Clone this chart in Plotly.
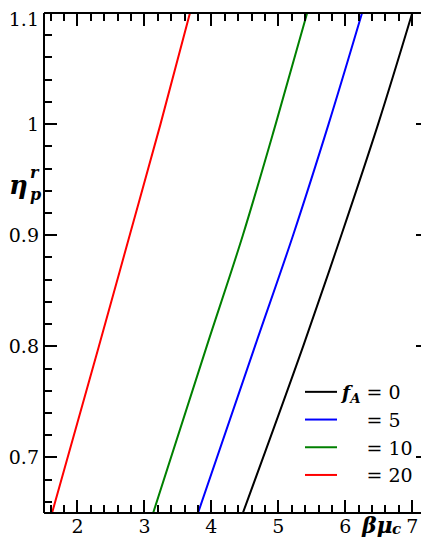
import plotly.graph_objects as go

# eta_p^r levels where the curves were read
eta = [0.65, 0.8, 0.9, 1.0, 1.1]

# beta*mu_c for each f_A curve
bmu_f0 = [4.47, 5.37, 5.94, 6.49, 7.00]
bmu_f5 = [3.80, 4.65, 5.22, 5.75, 6.25]
bmu_f10 = [3.13, 3.93, 4.47, 4.96, 5.43]
bmu_f20 = [1.62, 2.32, 2.78, 3.24, 3.68]

labels = ["0", "5", "10", "20"]
colors = ["black", "blue", "green", "red"]

y_ticks = [0.7, 0.8, 0.9, 1.0]
y_top_tick = [1.1]

FONT = "DejaVu Serif"

# the page body has an 8px margin, so the figure sits at (8, 8)
OFF = 8
W, H = 429 - OFF, 537 - OFF
L, R, T, B = 44 - OFF, 0, 13 - OFF, 24

fA = "<b><i>f<sub>A</sub></i></b>"
hidden = "<span style='color:rgba(0,0,0,0)'>" + fA + "</span>"

fig = go.Figure()

for i, xs in enumerate([bmu_f0, bmu_f5, bmu_f10, bmu_f20]):
    name = (fA if i == 0 else hidden) + " = " + labels[i]
    fig.add_trace(
        go.Scatter(
            x=xs,
            y=eta,
            mode="lines",
            name=name,
            line=dict(color=colors[i], width=2, shape="spline", smoothing=1),
        )
    )

axis_common = dict(
    showline=False,
    mirror="ticks",
    ticks="inside",
    ticklen=13,
    tickwidth=2,
    tickcolor="black",
    showgrid=False,
    zeroline=False,
    automargin=False,
    tickfont=dict(family=FONT, size=19, color="black"),
)

fig.update_xaxes(
    range=[1.5, 7.25],
    tick0=0,
    dtick=1,
    minor=dict(dtick=0.2, ticks="inside", ticklen=8, tickwidth=2, tickcolor="black"),
    **axis_common,
)

fig.update_layout(
    yaxis=dict(
        range=[0.65, 1.1],
        tickvals=y_ticks + y_top_tick,
        ticktext=[str(v).rstrip("0").rstrip(".") for v in y_ticks] + [""],
        ticklabelstandoff=4,
        minor=dict(dtick=0.02, ticks="inside", ticklen=8, tickwidth=2, tickcolor="black"),
        **axis_common,
    ),
    # the top label sits a bit lower so it is not cut by the page edge
    yaxis2=dict(
        overlaying="y",
        side="left",
        range=[0.65, 1.1],
        tickvals=y_top_tick,
        ticktext=[str(v) for v in y_top_tick],
        ticks="",
        showline=False,
        showgrid=False,
        zeroline=False,
        automargin=False,
        ticklabelstandoff=4,
        ticklabelshift=6,
        ticklabeloverflow="allow",
        tickfont=dict(family=FONT, size=19, color="black"),
    ),
)
fig.add_trace(
    go.Scatter(x=[None], y=[None], yaxis="y2", showlegend=False, hoverinfo="skip")
)

# frame: left, top, bottom (right edge is cut off in the original)
for x0, y0, x1, y1 in [(0, 0, 0, 1), (0, 1, 1, 1), (0, 0, 1, 0)]:
    fig.add_shape(
        type="line", xref="paper", yref="paper",
        x0=x0, y0=y0, x1=x1, y1=y1,
        line=dict(color="black", width=2),
    )


# page pixel -> paper coordinate
def px(x):
    return (x - 44) / (W - L - R)


def py(y):
    return (513 - y) / (H - T - B)


ann = [
    ("<b><i>η</i></b>", 18, 185, 26),
    ("<b><i>r</i></b>", 35, 173, 16),
    ("<b><i>p</i></b>", 35, 194, 16),
    ("<b><i>βμ</i></b>", 377, 525, 22),
    ("<b><i>c</i></b>", 396, 529, 15),
]
for text, x, y, size in ann:
    fig.add_annotation(
        text=text, xref="paper", yref="paper",
        x=px(x), y=py(y), xanchor="center", yanchor="middle",
        showarrow=False,
        font=dict(family=FONT, size=size, color="black"),
    )

fig.update_layout(
    width=W,
    height=H,
    margin=dict(l=L, r=R, t=T, b=B, autoexpand=False),
    plot_bgcolor="white",
    paper_bgcolor="white",
    showlegend=True,
    legend=dict(
        x=px(300),
        y=py(373),
        xanchor="left",
        yanchor="top",
        itemwidth=32,
        bgcolor="rgba(0,0,0,0)",
        font=dict(family=FONT, size=19, color="black"),
        tracegroupgap=0,
    ),
)

fig.write_html("out.html")
